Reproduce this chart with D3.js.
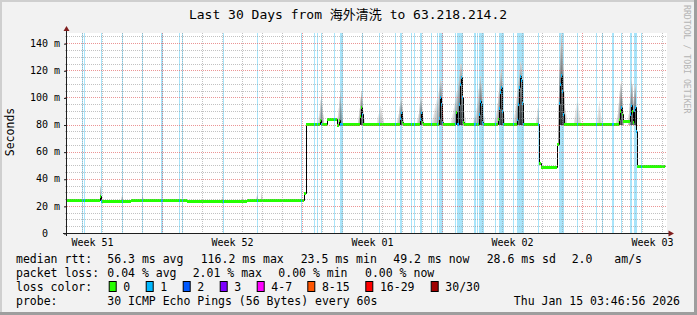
<!DOCTYPE html>
<html>
<head>
<meta charset="utf-8">
<script src="https://cdn.jsdelivr.net/npm/d3@7"></script>
<style>
html, body { margin: 0; padding: 0; background: #f2f2f2; }
svg { display: block; }
text { font-family: "DejaVu Sans Mono", "Noto Sans CJK SC", monospace; white-space: pre; }
</style>
</head>
<body>
<svg id="chart" width="697" height="315"></svg>
<script>
// time = days since left edge of graph (Dec 16 06:00), values in ms
// median rtt, step function (value holds until next point)
var medianPts = [
    [0, 24.0], [1.65, 27.0], [1.7, 23.5], [3.2, 24.0], [6.0, 23.6], [9.0, 24.0],
    [11.85, 29.5], [11.95, 80.5],
    [12.65, 83.0], [12.7, 80.5], [13.0, 84.0], [13.5, 80.0], [13.6, 83.0], [13.65, 80.5],
    [14.65, 86], [14.7, 93], [14.75, 88], [14.8, 80.5],
    [16.65, 85], [16.7, 89], [16.75, 82], [16.8, 80.5],
    [17.65, 84], [17.7, 89], [17.75, 82], [17.8, 80.5],
    [18.6, 85], [18.65, 100], [18.7, 95], [18.75, 82], [18.8, 80.5],
    [19.45, 89], [19.5, 80.5],
    [19.6, 95], [19.65, 110], [19.7, 115], [19.75, 100], [19.8, 82], [19.85, 80.5],
    [20.6, 88], [20.65, 97], [20.7, 95], [20.75, 82], [20.8, 80.5],
    [21.55, 84], [21.6, 92], [21.65, 104], [21.7, 108], [21.75, 90], [21.8, 80.5],
    [22.5, 84], [22.55, 95], [22.6, 108], [22.65, 115.5], [22.7, 113], [22.75, 96], [22.8, 80.5],
    [23.6, 51.4], [23.7, 49.0],
    [24.5, 65.6], [24.6, 96], [24.65, 110], [24.7, 116.2], [24.75, 105], [24.8, 88], [24.85, 80.5],
    [27.6, 84], [27.65, 90], [27.7, 93], [27.75, 88], [27.8, 82.5],
    [28.15, 88], [28.2, 94.4], [28.25, 90], [28.3, 82], [28.35, 91], [28.4, 93], [28.45, 75],
    [28.5, 49.2], [29.9, 49.2]
]

// periods with packet loss (all in the "1" class) [start, end]
var lossPeriods = [
    [0.75, 0.8], [0.85, 0.9], [1.7, 1.75], [2.75, 2.8], [3.75, 3.8], [4.72, 4.82],
    [5.6, 5.65], [5.75, 5.8], [7.8, 7.85], [9.5, 9.55], [11.7, 11.75], [12.35, 12.4],
    [12.5, 12.55], [12.7, 12.75], [13.35, 13.4], [13.65, 13.8], [14.75, 14.8], [15.6, 15.65],
    [16.4, 16.45], [16.65, 16.75], [17.2, 17.25], [17.35, 17.4], [17.65, 17.75], [18.2, 18.25],
    [18.5, 18.55], [18.6, 18.8], [19.4, 19.45], [19.5, 19.8], [20.35, 20.45], [20.5, 20.55],
    [20.6, 20.85], [21.4, 21.45], [21.6, 21.85], [22.3, 22.35], [22.5, 22.85], [23.55, 23.6],
    [24.6, 24.85], [25.5, 25.55], [26.45, 26.5], [26.75, 26.8], [27.25, 27.35], [27.7, 27.75],
    [28.15, 28.25], [28.35, 28.5], [28.7, 28.75]
]

// smoke (ping spread): [day, low, high, density]
var smoke = [
    [1.65, 23.5, 35, 0.5], [2.7, 23.5, 27, 0.25], [2.75, 23.5, 28, 0.3], [3.75, 23.5, 28, 0.3], [3.8, 23.5, 26, 0.2],
    [7.75, 23.5, 27, 0.25], [8.75, 23.5, 27, 0.25], [9.45, 23.5, 27, 0.25], [9.5, 23.5, 29, 0.3],
    [9.7, 23.5, 30, 0.3], [9.75, 23.5, 27, 0.2],
    [12.55, 80, 86, 0.2], [12.6, 80, 90, 0.3], [12.65, 80, 98, 0.4], [12.7, 80, 104, 0.5], [12.75, 80, 95, 0.4], [12.8, 80, 88, 0.3],
    [13.5, 80, 86, 0.2], [13.55, 80, 92, 0.3], [13.6, 80, 100, 0.4], [13.65, 80, 107, 0.5], [13.7, 80, 96, 0.4], [13.75, 80, 88, 0.25],
    [14.55, 80, 86, 0.25], [14.6, 80, 92, 0.4], [14.65, 80, 100, 0.6], [14.7, 80, 105, 0.8], [14.75, 80, 100, 0.6], [14.8, 80, 90, 0.4], [14.85, 80, 85, 0.25],
    [15.5, 80, 86, 0.15], [15.55, 80, 88, 0.2], [15.6, 80, 92, 0.25], [15.65, 80, 94, 0.3], [15.7, 80, 92, 0.3], [15.75, 80, 88, 0.2], [15.8, 80, 85, 0.2],
    [16.5, 80, 85, 0.2], [16.55, 80, 88, 0.3], [16.6, 80, 94, 0.4], [16.65, 80, 98, 0.55], [16.7, 80, 100, 0.7], [16.75, 80, 94, 0.5], [16.8, 80, 86, 0.3],
    [17.5, 80, 85, 0.2], [17.55, 80, 88, 0.3], [17.6, 80, 95, 0.4], [17.65, 80, 100, 0.6], [17.7, 80, 100, 0.7], [17.75, 80, 92, 0.4], [17.8, 80, 86, 0.25],
    [18.25, 80, 85, 0.15], [18.3, 80, 88, 0.2], [18.35, 80, 92, 0.25], [18.4, 80, 95, 0.3], [18.45, 80, 98, 0.3], [18.5, 80, 100, 0.35],
    [18.55, 80, 104, 0.4], [18.6, 80, 110, 0.6], [18.65, 80, 114, 0.8], [18.7, 80, 112, 0.7], [18.75, 80, 96, 0.4], [18.8, 80, 88, 0.25],
    [19.2, 80, 85, 0.15], [19.25, 80, 88, 0.2], [19.3, 80, 92, 0.25], [19.35, 80, 96, 0.3], [19.4, 80, 100, 0.4], [19.45, 80, 104, 0.5],
    [19.5, 80, 106, 0.5], [19.55, 80, 112, 0.6], [19.6, 80, 118, 0.7], [19.65, 80, 125, 0.85], [19.7, 80, 125, 0.9],
    [19.75, 80, 115, 0.7], [19.8, 80, 95, 0.4], [19.85, 80, 90, 0.25], [19.9, 80, 86, 0.2],
    [20.3, 80, 84, 0.15], [20.35, 80, 86, 0.2], [20.4, 80, 88, 0.25], [20.45, 80, 92, 0.3], [20.5, 80, 98, 0.3], [20.55, 80, 106, 0.45],
    [20.6, 80, 112, 0.6], [20.65, 80, 116, 0.8], [20.7, 80, 110, 0.8], [20.75, 80, 100, 0.5], [20.8, 80, 88, 0.3], [20.85, 80, 86, 0.2],
    [21.35, 80, 84, 0.15], [21.4, 80, 86, 0.2], [21.45, 80, 90, 0.3], [21.5, 80, 96, 0.35], [21.55, 80, 104, 0.5], [21.6, 80, 112, 0.6],
    [21.65, 80, 118, 0.8], [21.7, 80, 121, 0.9], [21.75, 80, 112, 0.7], [21.8, 80, 92, 0.4], [21.85, 80, 88, 0.25],
    [22.3, 80, 85, 0.15], [22.35, 80, 88, 0.2], [22.4, 80, 94, 0.3], [22.45, 80, 100, 0.4], [22.5, 80, 106, 0.5], [22.55, 80, 114, 0.6],
    [22.6, 80, 120, 0.75], [22.65, 80, 126, 0.9], [22.7, 80, 124, 0.9], [22.75, 80, 114, 0.7], [22.8, 80, 96, 0.4], [22.85, 80, 86, 0.2],
    [23.45, 80, 86, 0.2], [23.5, 80, 92, 0.25], [23.55, 80, 94, 0.3],
    [24.55, 64, 100, 0.5], [24.6, 80, 125, 0.7], [24.65, 80, 138, 0.85], [24.7, 80, 147, 0.95],
    [24.75, 80, 140, 0.85], [24.8, 80, 125, 0.7], [24.85, 80, 105, 0.5], [24.9, 80, 92, 0.3], [24.95, 80, 88, 0.2],
    [25.35, 80, 86, 0.15], [25.4, 80, 92, 0.2], [25.45, 80, 96, 0.2], [25.5, 80, 99, 0.25], [25.55, 80, 96, 0.2],
    [25.6, 80, 90, 0.2], [25.65, 80, 86, 0.15],
    [26.5, 80, 88, 0.15], [26.55, 80, 94, 0.2], [26.6, 80, 97, 0.25], [26.65, 80, 92, 0.2], [26.7, 80, 86, 0.15],
    [27.45, 80, 85, 0.2], [27.5, 80, 88, 0.25], [27.55, 80, 96, 0.35], [27.6, 80, 104, 0.5], [27.65, 80, 110, 0.7], [27.7, 80, 112, 0.8],
    [27.75, 80, 100, 0.6], [27.8, 80, 90, 0.35],
    [28.05, 80, 88, 0.25], [28.1, 80, 96, 0.35], [28.15, 80, 104, 0.5], [28.2, 80, 114, 0.7], [28.25, 80, 110, 0.7],
    [28.3, 80, 100, 0.6], [28.35, 80, 108, 0.7], [28.4, 80, 110, 0.8], [28.45, 80, 95, 0.5]
]

const yTicks = [0, 20, 40, 60, 80, 100, 120, 140]
const yTickLabels = ["0  ", "20 m", "40 m", "60 m", "80 m", "100 m", "120 m", "140 m"]
const weekDays = [1.25, 8.25, 15.25, 22.25, 29.25]
const weekLabels = ["Week 51", "Week 52", "Week 01", "Week 02", "Week 03"]
const sundays = [4.75, 11.75, 18.75, 25.75]

const rttStats = ["56.3 ms avg", "116.2 ms max", "23.5 ms min", "49.2 ms now", "28.6 ms sd", "2.0", "am/s"]
const lossStats = ["0.04 % avg", "2.01 % max", "0.00 % min", "0.00 % now"]
const lossLabels = ["0", "1", "2", "3", "4-7", "8-15", "16-29", "30/30"]
const lossColors = ["#26ff00", "#00b8ff", "#0059ff", "#7e00ff", "#ff00ff", "#ff5500", "#ff0000", "#a00000"]
const titleText = "Last 30 Days from 海外清洗 to 63.218.214.2"
const probeText = "30 ICMP Echo Pings (56 Bytes) every 60s"
const dateText = "Thu Jan 15 03:46:56 2026"

// layout
const pLeft = 67, pRight = 667, pTop = 33, pBottom = 233
const rttX = [107.3, 200.7, 300.7, 393.3, 486.7, 571.7, 614.3]
const lossX = [107.3, 192.7, 278.3, 365]
const boxX = [108.7, 145.7, 182.7, 219.7, 256.7, 307.3, 365.3, 430.7]

const svg = d3.select('#chart')
const x = d3.scaleLinear().domain([0, 30]).range([pLeft, pRight])
const y = d3.scaleLinear().domain([0, 147.5]).range([pBottom, pTop])

// background and 3d frame
svg.append('rect').attr('width', 697).attr('height', 315).attr('fill', '#f2f2f2')
svg.append('rect').attr('width', 697).attr('height', 2).attr('fill', '#cfcfcf')
svg.append('rect').attr('width', 2).attr('height', 315).attr('fill', '#cfcfcf')
svg.append('rect').attr('y', 312).attr('width', 697).attr('height', 3).attr('fill', '#9e9e9e')
svg.append('rect').attr('x', 694).attr('width', 3).attr('height', 315).attr('fill', '#9e9e9e')
svg.append('rect').attr('x', pLeft).attr('y', pTop).attr('width', pRight - pLeft).attr('height', pBottom - pTop).attr('fill', '#fff')

// gradient for the smoke
var grad = svg.append('defs').append('linearGradient').attr('id', 'smk')
    .attr('x1', 0).attr('y1', 1).attr('x2', 0).attr('y2', 0)
grad.append('stop').attr('offset', 0).attr('stop-color', '#202020')
grad.append('stop').attr('offset', 0.4).attr('stop-color', '#555')
grad.append('stop').attr('offset', 0.75).attr('stop-color', '#9a9a9a')
grad.append('stop').attr('offset', 1).attr('stop-color', '#dcdcdc')

// loss background bars
svg.append('g').selectAll('rect').data(lossPeriods).enter().append('rect')
    .attr('x', d => x(d[0]))
    .attr('width', d => Math.max(1, x(d[1]) - x(d[0])))
    .attr('y', pTop).attr('height', pBottom - pTop)
    .attr('fill', '#a8e4fa')
    .attr('shape-rendering', 'crispEdges')

// smoke
svg.append('g').selectAll('rect').data(smoke).enter().append('rect')
    .attr('x', d => x(d[0]))
    .attr('width', d => x(d[0] + 0.05) - x(d[0]))
    .attr('y', d => y(d[2]))
    .attr('height', d => y(d[1]) - y(d[2]))
    .attr('fill', 'url(#smk)')
    .attr('opacity', d => d[3])
    .attr('shape-rendering', 'crispEdges')

// median line
var line = d3.line().x(d => x(d[0]) + 0.5).y(d => Math.round(y(d[1])) + 0.5).curve(d3.curveStepAfter)
svg.append('path').datum(medianPts).attr('d', line)
    .attr('fill', 'none').attr('stroke', '#000').attr('stroke-width', 1)

// loss coloured median band
var band = svg.append('g').attr('shape-rendering', 'crispEdges')
for (var i = 0; i < medianPts.length - 1; i++) {
    var t0 = medianPts[i][0], t1 = medianPts[i + 1][0], v = medianPts[i][1]
    var yy = Math.round(y(v)) - 1
    band.append('rect').attr('x', x(t0)).attr('width', x(t1) - x(t0))
        .attr('y', yy).attr('height', 3).attr('fill', lossColors[0])
    lossPeriods.forEach(p => {
        var a = Math.max(p[0], t0), b = Math.min(p[1], t1)
        if (b > a) {
            band.append('rect').attr('x', x(a)).attr('width', Math.max(1, x(b) - x(a)))
                .attr('y', yy).attr('height', 3).attr('fill', lossColors[1])
        }
    })
}

// grid (drawn on top, like rrdtool)
var grid = svg.append('g').attr('stroke-dasharray', '1,1').attr('stroke-width', 1)
var minorY = d3.range(5, 148, 5).filter(v => v % 20 != 0)
grid.selectAll('.hmin').data(minorY).enter().append('line')
    .attr('x1', pLeft - 2).attr('x2', pRight)
    .attr('y1', d => Math.round(y(d)) + 0.5).attr('y2', d => Math.round(y(d)) + 0.5)
    .attr('stroke', 'rgba(143,143,143,0.55)')
var minorX = d3.range(0.75, 30, 1).filter(d => sundays.indexOf(d) < 0)
grid.selectAll('.vmin').data(minorX).enter().append('line')
    .attr('x1', d => x(d) + 0.5).attr('x2', d => x(d) + 0.5)
    .attr('y1', pTop).attr('y2', pBottom + 2)
    .attr('stroke', 'rgba(143,143,143,0.55)')
grid.selectAll('.hmaj').data(yTicks.slice(1)).enter().append('line')
    .attr('x1', pLeft - 2).attr('x2', pRight)
    .attr('y1', d => Math.round(y(d)) + 0.5).attr('y2', d => Math.round(y(d)) + 0.5)
    .attr('stroke', 'rgba(222,79,79,0.6)')
grid.selectAll('.vmaj').data(sundays).enter().append('line')
    .attr('x1', d => x(d) + 0.5).attr('x2', d => x(d) + 0.5)
    .attr('y1', pTop).attr('y2', pBottom + 2)
    .attr('stroke', 'rgba(222,79,79,0.6)')

// axes with labels
var yAxis = d3.axisLeft(y).tickValues(yTicks).tickFormat((d, i) => yTickLabels[i]).tickSize(3).tickPadding(4)
var gy = svg.append('g').attr('transform', `translate(${pLeft},0)`).call(yAxis)
gy.select('.domain').remove()
gy.selectAll('.tick line').attr('stroke', '#1f1f1f').attr('transform', 'translate(0,0.5)')
gy.selectAll('text').attr('font-size', '10px').attr('font-family', null).attr('fill', '#000').attr('xml:space', 'preserve')

var xAxis = d3.axisBottom(x).tickValues(weekDays).tickFormat((d, i) => weekLabels[i]).tickSize(0).tickPadding(6)
var gx = svg.append('g').attr('transform', `translate(0,${pBottom})`).call(xAxis)
gx.select('.domain').remove()
gx.selectAll('text').attr('font-size', '10px').attr('font-family', null).attr('fill', '#000')

// axis lines and arrows
svg.append('line').attr('x1', pLeft - 4).attr('x2', pRight + 3).attr('y1', pBottom + 0.5).attr('y2', pBottom + 0.5)
    .attr('stroke', '#1f1f1f')
svg.append('line').attr('x1', pLeft - 0.5).attr('x2', pLeft - 0.5).attr('y1', pBottom + 3).attr('y2', pTop - 3)
    .attr('stroke', '#1f1f1f')
svg.append('path').attr('d', `M${pRight + 1.5},${pBottom - 2.5}L${pRight + 7},${pBottom + 0.5}L${pRight + 1.5},${pBottom + 3.5}Z`)
    .attr('fill', '#801f1f')
svg.append('path').attr('d', `M${pLeft - 3.5},${pTop - 2}L${pLeft - 0.5},${pTop - 7}L${pLeft + 2.5},${pTop - 2}Z`)
    .attr('fill', '#801f1f')

// title, unit, watermark
svg.append('text').attr('x', 348).attr('y', 18.5).attr('text-anchor', 'middle')
    .attr('font-size', '13px').text(titleText)
svg.append('text').attr('transform', 'translate(14,132) rotate(-90)').attr('text-anchor', 'middle')
    .attr('font-size', '11.5px').text('Seconds')
svg.append('text').attr('transform', 'translate(684,5) rotate(90)')
    .attr('font-size', '8.2px').attr('fill', '#b4b4b4').text('RRDTOOL / TOBI OETIKER')

// legend
var lg = svg.append('g').attr('font-size', '11.5px')
var rows = [262.7, 276.7, 290.7, 304.7]
lg.append('text').attr('x', 16).attr('y', rows[0]).text('median rtt:')
lg.selectAll('.rtt').data(rttStats).enter().append('text')
    .attr('x', (d, i) => rttX[i]).attr('y', rows[0]).text(d => d)
lg.append('text').attr('x', 16).attr('y', rows[1]).text('packet loss:')
lg.selectAll('.loss').data(lossStats).enter().append('text')
    .attr('x', (d, i) => lossX[i]).attr('y', rows[1]).text(d => d)
lg.append('text').attr('x', 16).attr('y', rows[2]).text('loss color:')
lg.selectAll('.lbox').data(lossColors).enter().append('rect')
    .attr('x', (d, i) => boxX[i] + 0.5).attr('y', 281.5).attr('width', 7).attr('height', 10)
    .attr('fill', d => d).attr('stroke', '#000').attr('stroke-width', 1)
lg.selectAll('.llab').data(lossLabels).enter().append('text')
    .attr('x', (d, i) => boxX[i] + 14.6).attr('y', rows[2]).text(d => d)
lg.append('text').attr('x', 16).attr('y', rows[3]).text('probe:')
lg.append('text').attr('x', 107.3).attr('y', rows[3]).text(probeText)
lg.append('text').attr('x', 680).attr('y', rows[3]).attr('text-anchor', 'end').text(dateText)
</script>
</body>
</html>
